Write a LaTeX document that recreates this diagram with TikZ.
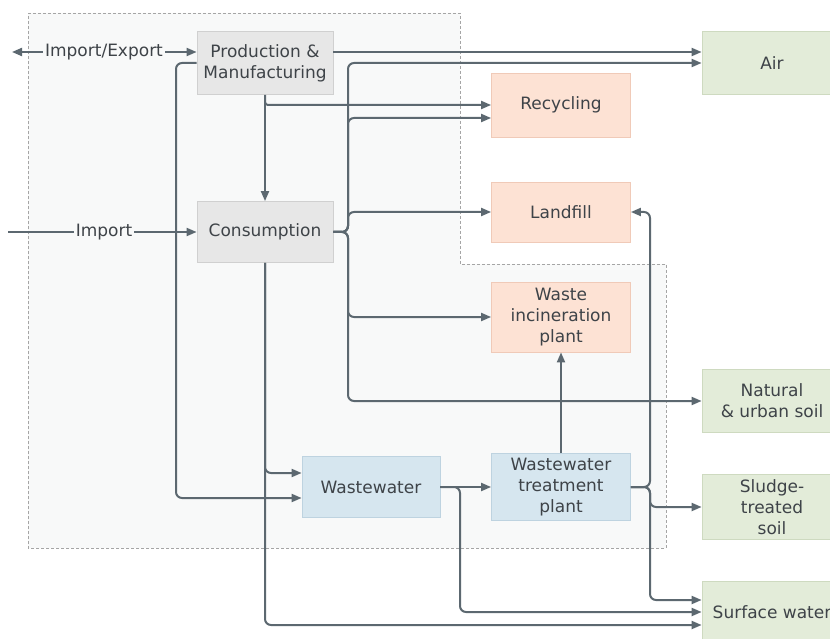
\documentclass[tikz,border=0pt]{standalone}
\usepackage{fontspec}
\setmainfont{DejaVu Sans}
\usetikzlibrary{arrows.meta,calc}
\definecolor{ln}{RGB}{92,104,112}
\definecolor{txt}{RGB}{62,67,72}
\definecolor{bord}{RGB}{165,165,165}
\definecolor{inside}{RGB}{248,249,249}
\definecolor{grayF}{RGB}{231,231,231}\definecolor{grayD}{RGB}{208,208,208}
\definecolor{peachF}{RGB}{253,226,212}\definecolor{peachD}{RGB}{240,202,184}
\definecolor{greenF}{RGB}{227,236,217}\definecolor{greenD}{RGB}{206,218,192}
\definecolor{blueF}{RGB}{214,230,239}\definecolor{blueD}{RGB}{190,211,224}
\begin{document}
\begin{tikzpicture}[x=1pt,y=-1pt,
  box/.style={draw, line width=0.8pt, inner sep=0pt, align=center, text=txt,
    font=\fontsize{17}{21}\selectfont},
  graybox/.style={box, fill=grayF, draw=grayD, minimum width=136pt},
  peachbox/.style={box, fill=peachF, draw=peachD, minimum width=139pt},
  greenbox/.style={box, fill=greenF, draw=greenD, minimum width=140pt},
  bluebox/.style={box, fill=blueF, draw=blueD, minimum width=139pt},
  lbl/.style={text=txt, inner sep=2pt, font=\fontsize{17}{21}\selectfont},
  arr/.style={draw=ln, line width=2pt, rounded corners=6pt, -{Triangle[length=10pt,width=8pt]}},
  ln/.style={draw=ln, line width=2pt, rounded corners=6pt}]
\useasboundingbox (0,0) rectangle (830,639);
\fill[white] (0,0) rectangle (830,639);
% system boundary
\draw[fill=inside, draw=bord, line width=0.9pt, dash pattern=on 3pt off 2pt]
  (28,13) -- (460,13) -- (460,264) -- (666,264) -- (666,548) -- (28,548) -- cycle;

% nodes
\node[graybox, minimum height=63pt] (prod) at (265,63) {Production \&\\Manufacturing};
\node[graybox, minimum height=61pt] (cons) at (265,232) {Consumption};
\node[peachbox, minimum height=64pt] (recyc) at (561,105) {Recycling};
\node[peachbox, minimum height=60pt] (land) at (561,212) {Landfill};
\node[peachbox, minimum height=70pt] (incin) at (561,317) {Waste\\incineration\\plant};
\node[greenbox, minimum height=63pt] (air) at (772,63) {Air};
\node[greenbox, minimum height=63pt] (soil) at (772,401) {Natural\\\& urban soil};
\node[greenbox, minimum height=65pt] (sludge) at (772,507) {Sludge-\\treated\\soil};
\node[greenbox, minimum height=62pt] (surf) at (772,612) {Surface water};
\node[bluebox, minimum height=61pt, minimum width=138pt] (ww) at (371,487) {Wastewater};
\node[bluebox, minimum height=67pt] (wwtp) at (561,487) {Wastewater\\treatment\\plant};
\node[lbl] (iex) at (104,52) {Import/Export};
\node[lbl] (imp) at (104,232) {Import};

% helper coordinates
\coordinate (ieL) at (12,52);
\coordinate (impL) at (8,232);
\coordinate (cfx) at (348,0);
\coordinate (pfx) at (176,63);
\coordinate (wfx) at (650,0);
\coordinate (wbx) at (460,0);
\coordinate (r2) at (0,118);
\coordinate (a1) at (0,52);
\coordinate (wwA) at (0,473);
\coordinate (wwB) at (0,498);
\coordinate (s1) at (0,600);
\coordinate (s2) at (0,612);
\coordinate (s3) at (0,625);

% import / export
\draw[arr] (iex.west) -- (ieL);
\draw[arr] (iex.east) -- (prod.west |- iex);
\draw[ln] (impL) -- (imp.west);
\draw[arr] (imp.east) -- (cons.west);

% production
\draw[arr] (prod.east |- a1) -- (air.west |- a1);
\draw[arr] (prod.south) -- (cons.north);
\draw[arr, rounded corners=3pt] (prod.south) |- (recyc.west);
\draw[arr] (prod.west) -- (pfx) |- (ww.west |- wwB);

% consumption fork
\draw[arr] (cons.east) -- (cfx |- cons.east) -- (cfx |- air.west) -- (air.west);
\draw[arr] (cons.east) -- (cfx |- cons.east) -- (cfx |- r2) -- (recyc.west |- r2);
\draw[arr] (cons.east) -- (cfx |- cons.east) -- (cfx |- land.west) -- (land.west);
\draw[arr] (cons.east) -- (cfx |- cons.east) -- (cfx |- incin.west) -- (incin.west);
\draw[arr] (cons.east) -- (cfx |- cons.east) -- (cfx |- soil.west) -- (soil.west);
\draw[arr] (cons.south) |- (surf.west |- s3);
\draw[arr] (cons.south) |- (ww.west |- wwA);

% wastewater
\draw[arr] (ww.east) -- (wwtp.west |- ww.east);
\draw[arr] (ww.east) -- (wbx |- ww.east) |- (surf.west |- s2);

% treatment plant
\draw[arr] (wwtp.north) -- (incin.south);
\draw[arr] (wwtp.east) -- (wfx |- wwtp.east) -- (wfx |- land.east) -- (land.east);
\draw[arr] (wwtp.east) -- (wfx |- wwtp.east) |- (sludge.west);
\draw[arr] (wwtp.east) -- (wfx |- wwtp.east) |- (surf.west |- s1);
\end{tikzpicture}
\end{document}
